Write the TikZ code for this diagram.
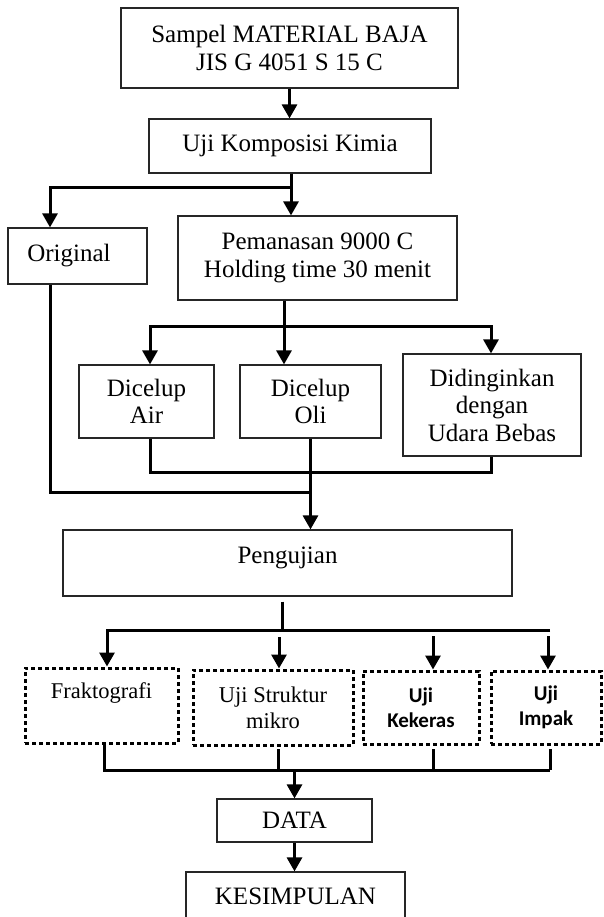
\documentclass[tikz,border=0pt]{standalone}
\usepackage{fontspec}
\setmainfont{Liberation Serif}
\newfontfamily\calibri{Carlito}
\usetikzlibrary{arrows.meta,calc}
\begin{document}
\begin{tikzpicture}[x=1pt,y=-1pt,
  box/.style={draw=black!85, line width=1.2pt, inner sep=0pt, align=center, font=\fontsize{25}{27.5}\selectfont},
  dbox/.style={draw, line width=3pt, dash pattern=on 4pt off 3pt, inner sep=0pt, align=center},
  tnr/.style={font=\fontsize{22.5}{26}\selectfont},
  cal/.style={font=\calibri\bfseries\fontsize{21}{25}\selectfont},
  conn/.style={line width=3pt},
  arr/.style={conn, -{Triangle[width=15pt,length=14pt]}}]
\useasboundingbox (0,0) rectangle (604,917);
\clip (0,0) rectangle (604,917);

% nodes
\node[box, minimum width=337pt, minimum height=80pt] (s1) at (289.5,48) {Sampel MATERIAL BAJA\\JIS G 4051 S 15 C};
\node[box, minimum width=282pt, minimum height=54pt] (s2) at (290,146) {Uji Komposisi Kimia};
\node[box, minimum width=139pt, minimum height=56pt] (orig) at (77.5,256) {Original\hspace*{17pt}};
\node[box, minimum width=279pt, minimum height=84pt] (pem) at (317.5,258) {Pemanasan 9000 C\\Holding time 30 menit};
\node[box, minimum width=135pt, minimum height=73pt] (air) at (146.5,401.5) {Dicelup\\Air};
\node[box, minimum width=141pt, minimum height=73pt] (oli) at (310.5,401.5) {Dicelup\\Oli};
\node[box, minimum width=178pt, minimum height=102pt] (did) at (492,405) {Didinginkan\\dengan\\Udara Bebas};
\node[box, minimum width=449pt, minimum height=66pt, text height=12pt, text depth=12pt] (peng) at (287.5,563) {Pengujian};
\node[dbox, tnr, minimum width=153pt, minimum height=75pt, text height=10pt, text depth=25pt] (frak) at (101.5,705.5) {Fraktografi};
\node[dbox, tnr, minimum width=160pt, minimum height=75pt] (struk) at (273,707.5) {Uji Struktur\\mikro};
\node[dbox, cal, minimum width=116pt, minimum height=73pt] (kek) at (421,707.5) {Uji\\Kekeras};
\node[dbox, cal, minimum width=110pt, minimum height=73pt] (imp) at (546,707.5) {Uji\\Impak};
\node[box, minimum width=155pt, minimum height=43pt] (data) at (294.5,820.5) {DATA};
\node[box, minimum width=219pt, minimum height=100pt, text height=8pt, text depth=44pt] (kes) at (295.5,922) {KESIMPULAN};

% junction coordinates
\coordinate (j1) at (291,188);
\coordinate (oa) at (50,188);
\coordinate (ob) at (50,492);
\coordinate (pj) at (284,326);
\coordinate (pl) at (150,326);
\coordinate (pr) at (491,326);
\coordinate (ml) at (150,472);
\coordinate (mr) at (491,472);
\coordinate (q)  at (282,630);
\coordinate (ql) at (107,630);
\coordinate (qr) at (550,630);
\coordinate (qa) at (279,637);
\coordinate (qb) at (433,636);
\coordinate (qc) at (548,636);
\coordinate (ra) at (104,770);
\coordinate (rb) at (550,770);
\coordinate (rs) at (278,749);
\coordinate (rk) at (433,749);
\coordinate (ri) at (550,749);

% connectors
\draw[arr] (s1.south) -- (s1.south |- s2.north);
\draw[conn] (s2.south -| j1) -- (j1);
\draw[arr] (j1) -- (oa) -- (oa |- orig.north);
\draw[arr] (s2.south -| j1) -- (j1 |- pem.north);

\draw[conn] (orig.south -| oa) -- (ob) -- (ob -| oli.south);

\draw[arr] (pem.south -| pj) -- (pj |- oli.north);
\draw[arr] (pj) -- (pl) -- (pl |- air.north);
\draw[arr] (pj) -- (pr) -- (pr |- did.north);

\draw[conn] (air.south -| ml) -- (ml) -- (mr) -- (did.south -| mr);
\draw[arr] (oli.south) -- (oli.south |- peng.north);

\draw[conn] ($(peng.south -| q)+(0,5)$) -- (q);
\draw[arr] (qr) -- (ql) -- (ql |- frak.north);
\draw[arr] (qa) -- (qa |- struk.north);
\draw[arr] (qb) -- (qb |- kek.north);
\draw[arr] (qc) -- (qc |- imp.north);

\draw[conn] (frak.south -| ra) -- (ra) -- (rb);
\draw[conn] (rs) -- (rs |- ra);
\draw[conn] (rk) -- (rk |- ra);
\draw[conn] (ri) -- (rb);
\draw[arr] (ra -| data.north) -- (data.north);
\draw[arr] (data.south) -- (data.south |- kes.north);
\end{tikzpicture}
\end{document}
